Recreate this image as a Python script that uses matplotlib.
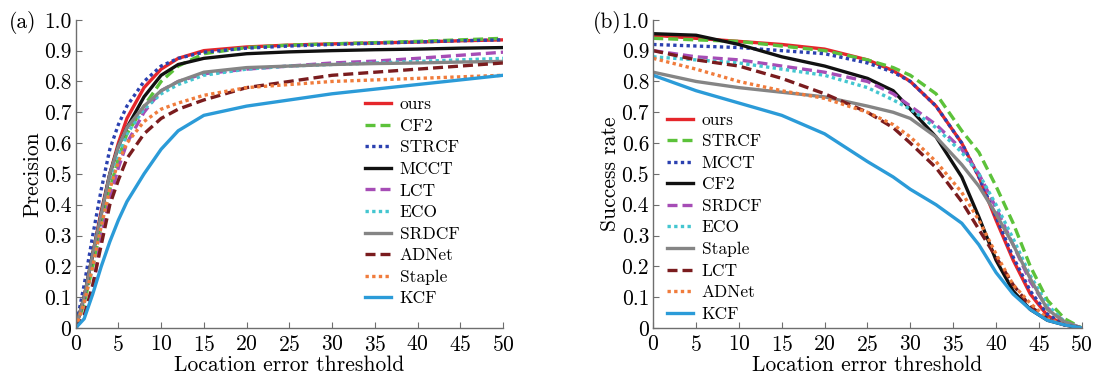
import matplotlib
matplotlib.use("Agg")
import matplotlib.pyplot as plt
import numpy as np

plt.rcParams["font.family"] = ["cmr10", "DejaVu Serif"]
plt.rcParams["mathtext.fontset"] = "cm"
plt.rcParams["axes.formatter.use_mathtext"] = True

# ---- precision plot (location error threshold 0..50)
prec_x = [0, 1, 2, 3, 4, 5, 6, 8, 10, 12, 15, 20, 25, 30, 35, 40, 45, 50]
prec = {
    "ours":   [0.0, 0.10, 0.24, 0.38, 0.50, 0.60, 0.68, 0.78, 0.84, 0.875, 0.900, 0.912, 0.918, 0.922, 0.925, 0.928, 0.932, 0.935],
    "CF2":    [0.0, 0.08, 0.20, 0.33, 0.45, 0.55, 0.63, 0.72, 0.80, 0.85, 0.890, 0.910, 0.918, 0.922, 0.926, 0.930, 0.935, 0.940],
    "STRCF":  [0.0, 0.14, 0.30, 0.45, 0.58, 0.66, 0.72, 0.80, 0.85, 0.875, 0.895, 0.908, 0.915, 0.920, 0.924, 0.928, 0.932, 0.935],
    "MCCT":   [0.0, 0.10, 0.24, 0.37, 0.50, 0.59, 0.65, 0.75, 0.82, 0.855, 0.875, 0.890, 0.896, 0.900, 0.903, 0.905, 0.908, 0.910],
    "LCT":    [0.0, 0.04, 0.12, 0.30, 0.42, 0.52, 0.60, 0.70, 0.77, 0.80, 0.825, 0.840, 0.850, 0.860, 0.866, 0.875, 0.885, 0.895],
    "ECO":    [0.0, 0.08, 0.20, 0.34, 0.47, 0.56, 0.63, 0.71, 0.76, 0.79, 0.820, 0.840, 0.850, 0.855, 0.860, 0.865, 0.870, 0.875],
    "SRDCF":  [0.0, 0.10, 0.24, 0.37, 0.50, 0.59, 0.65, 0.72, 0.77, 0.80, 0.830, 0.845, 0.850, 0.855, 0.858, 0.860, 0.863, 0.865],
    "ADNet":  [0.0, 0.04, 0.14, 0.27, 0.40, 0.48, 0.55, 0.63, 0.68, 0.71, 0.740, 0.780, 0.800, 0.820, 0.830, 0.840, 0.850, 0.860],
    "Staple": [0.0, 0.08, 0.20, 0.33, 0.45, 0.54, 0.60, 0.67, 0.71, 0.73, 0.755, 0.780, 0.790, 0.800, 0.805, 0.810, 0.815, 0.820],
    "KCF":    [0.0, 0.03, 0.11, 0.20, 0.28, 0.35, 0.41, 0.50, 0.58, 0.64, 0.690, 0.720, 0.740, 0.760, 0.775, 0.790, 0.805, 0.820],
}

# ---- success plot
succ_x = [0, 5, 10, 15, 20, 25, 28, 30, 33, 36, 38, 40, 42, 44, 46, 48, 50]
succ = {
    "ours":   [0.950, 0.940, 0.930, 0.920, 0.905, 0.870, 0.835, 0.800, 0.720, 0.600, 0.490, 0.350, 0.220, 0.110, 0.040, 0.010, 0.0],
    "STRCF":  [0.940, 0.935, 0.930, 0.915, 0.900, 0.870, 0.845, 0.820, 0.760, 0.640, 0.570, 0.460, 0.340, 0.200, 0.090, 0.030, 0.0],
    "MCCT":   [0.920, 0.915, 0.910, 0.900, 0.890, 0.860, 0.830, 0.800, 0.720, 0.600, 0.490, 0.360, 0.230, 0.120, 0.045, 0.012, 0.0],
    "CF2":    [0.955, 0.950, 0.920, 0.880, 0.850, 0.810, 0.770, 0.710, 0.620, 0.490, 0.360, 0.220, 0.120, 0.060, 0.025, 0.010, 0.0],
    "SRDCF":  [0.900, 0.880, 0.870, 0.850, 0.830, 0.800, 0.760, 0.720, 0.660, 0.580, 0.500, 0.390, 0.270, 0.150, 0.065, 0.020, 0.0],
    "ECO":    [0.880, 0.870, 0.860, 0.840, 0.820, 0.780, 0.740, 0.710, 0.650, 0.570, 0.500, 0.400, 0.290, 0.170, 0.075, 0.020, 0.0],
    "Staple": [0.830, 0.800, 0.780, 0.765, 0.750, 0.720, 0.700, 0.680, 0.620, 0.530, 0.460, 0.370, 0.270, 0.160, 0.060, 0.020, 0.0],
    "LCT":    [0.900, 0.870, 0.850, 0.810, 0.760, 0.700, 0.650, 0.600, 0.520, 0.410, 0.320, 0.230, 0.140, 0.070, 0.030, 0.010, 0.0],
    "ADNet":  [0.875, 0.840, 0.800, 0.770, 0.745, 0.700, 0.660, 0.620, 0.540, 0.440, 0.350, 0.240, 0.140, 0.080, 0.030, 0.010, 0.0],
    "KCF":    [0.820, 0.770, 0.730, 0.690, 0.630, 0.540, 0.490, 0.450, 0.400, 0.340, 0.270, 0.180, 0.110, 0.060, 0.025, 0.010, 0.0],
}

styles = {
    "ours":   dict(color="#e5262b", ls="-"),
    "CF2":    dict(color="#5cc23a", ls=(0, (3, 1.5))),
    "STRCF":  dict(color="#2b41b0", ls=(0, (1, 1))),
    "MCCT":   dict(color="#111111", ls="-"),
    "LCT":    dict(color="#a64db6", ls=(0, (3, 1.5))),
    "ECO":    dict(color="#44c6d0", ls=(0, (1, 1))),
    "SRDCF":  dict(color="#858585", ls="-"),
    "ADNet":  dict(color="#7a1c1e", ls=(0, (3, 1.5))),
    "Staple": dict(color="#f07c3c", ls=(0, (1, 1))),
    "KCF":    dict(color="#2b9bd8", ls="-"),
}
# same curves are styled by slot in the success panel
succ_styles = {
    "ours": styles["ours"], "STRCF": styles["CF2"], "MCCT": styles["STRCF"],
    "CF2": styles["MCCT"], "SRDCF": styles["LCT"], "ECO": styles["ECO"],
    "Staple": styles["SRDCF"], "LCT": styles["ADNet"], "ADNet": styles["Staple"],
    "KCF": styles["KCF"],
}

yticks = np.round(np.arange(0, 1.01, 0.1), 1)
ylabels = ["0"] + [f"{v:.1f}" for v in yticks[1:]]
xticks = list(range(0, 51, 5))

FS = 15.5
LEG = dict(frameon=False, fontsize=12.5, handlelength=1.5, handletextpad=0.5,
           labelspacing=0.36, borderpad=0, borderaxespad=0, loc="upper left")

fig = plt.figure(figsize=(10.96, 3.74), dpi=100)
ax1 = fig.add_axes([0.069, 0.123, 0.390, 0.824])
ax2 = fig.add_axes([0.596, 0.123, 0.391, 0.824])


def style_axes(ax):
    ax.set_xlim(0, 50)
    ax.set_ylim(0, 1.0)
    ax.set_xticks(xticks)
    ax.set_yticks(yticks)
    ax.set_yticklabels(ylabels)
    for s in ("top", "right"):
        ax.spines[s].set_visible(False)
    for s in ("left", "bottom"):
        ax.spines[s].set_color("#6e6e6e")
        ax.spines[s].set_linewidth(1.0)
    ax.tick_params(direction="in", length=4, width=0.8, color="#6e6e6e",
                   labelsize=FS)
    ax.tick_params(axis="x", pad=5)
    ax.tick_params(axis="y", pad=3)
    ax.set_xlabel("Location error threshold", fontsize=FS, labelpad=0.5)


for name, vals in prec.items():
    ax1.plot(prec_x, vals, lw=2.4, label=name, **styles[name])
style_axes(ax1)
ax1.set_ylabel("Precision", fontsize=FS, labelpad=1)
ax1.legend(bbox_to_anchor=(0.677, 0.75), **LEG)
fig.text(0.008, 0.925, "(a)", fontsize=FS)

for name, vals in succ.items():
    ax2.plot(succ_x, vals, lw=2.4, label=name, **succ_styles[name])
style_axes(ax2)
ax2.set_ylabel("Success rate", fontsize=FS, labelpad=1)
ax2.legend(bbox_to_anchor=(0.032, 0.70), **LEG)
fig.text(0.541, 0.925, "(b)", fontsize=FS)

fig.savefig("out.png", dpi=100)
